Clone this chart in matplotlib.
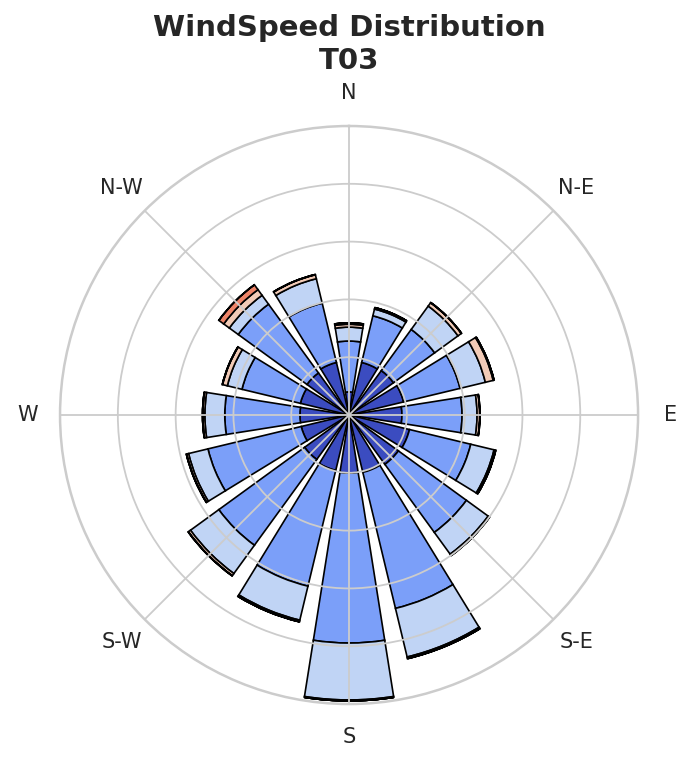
import numpy as np
import matplotlib
matplotlib.use("Agg")
import matplotlib.pyplot as plt

# wind directions (16 sectors, clockwise from north)
directions = ["N", "NNE", "NE", "ENE", "E", "ESE", "SE", "SSE",
              "S", "SSW", "SW", "WSW", "W", "WNW", "NW", "NNW"]

# frequency (%) per speed bin, one list per bin
speed_bin_0 = [0.80, 1.87, 1.90, 1.94, 1.83, 2.15, 2.11, 2.04,
               2.01, 1.97, 1.90, 1.70, 1.70, 1.73, 1.80, 1.87]
speed_bin_1 = [1.76, 1.66, 1.76, 2.01, 2.08, 2.18, 2.91, 4.84,
               5.88, 4.12, 3.67, 3.32, 2.60, 2.08, 2.94, 2.11]
speed_bin_2 = [0.48, 0.24, 1.00, 0.90, 0.52, 0.83, 0.93, 1.73,
               1.97, 1.21, 1.21, 0.69, 0.69, 0.52, 0.38, 0.87]
speed_bin_3 = [0.10, 0.05, 0.14, 0.28, 0.09, 0.05, 0.05, 0.05,
               0.03, 0.05, 0.09, 0.07, 0.07, 0.17, 0.24, 0.14]
speed_bin_4 = [0.05, 0.00, 0.01, 0.03, 0.01, 0.01, 0.01, 0.01,
               0.00, 0.01, 0.01, 0.01, 0.01, 0.01, 0.21, 0.01]
speed_bin_5 = [0.00, 0.00, 0.00, 0.00, 0.00, 0.00, 0.00, 0.00,
               0.00, 0.00, 0.00, 0.00, 0.00, 0.00, 0.00, 0.00]
bins = [speed_bin_0, speed_bin_1, speed_bin_2, speed_bin_3, speed_bin_4, speed_bin_5]

compass_labels = ["N", "N-E", "E", "S-E", "S", "S-W", "W", "N-W"]

cmap = plt.get_cmap("coolwarm")
colors = [cmap(v) for v in np.linspace(0, 1, len(bins))]

fig = plt.figure(figsize=(6.94, 7.66), dpi=100)
ax = fig.add_axes([0.0865, 0.0809, 0.8329, 0.7546], projection="polar")
ax.set_theta_zero_location("N")
ax.set_theta_direction(-1)

theta = np.deg2rad(np.arange(len(directions)) * 360 / len(directions))
width = np.deg2rad(360 / len(directions)) * 0.8
bottom = np.zeros(len(directions))
for vals, col in zip(bins, colors):
    vals = np.array(vals)
    ax.bar(theta, vals, width=width, bottom=bottom, color=col,
           edgecolor="black", linewidth=1.2, zorder=1)
    bottom += vals

ax.set_ylim(0, 10)
ax.set_yticks([2, 4, 6, 8])
ax.set_yticklabels([])
ax.set_thetagrids(np.arange(0, 360, 45), compass_labels)
ax.tick_params(axis="x", labelsize=15, colors="#262626", pad=13)
ax.set_axisbelow(False)
ax.grid(True, color="#cccccc", linewidth=1.3)
ax.spines["polar"].set_color("#cccccc")
ax.spines["polar"].set_linewidth(1.8)

fig.text(0.503, 1 - 14 / 766, "WindSpeed Distribution\nT03", ha="center", va="top",
         fontsize=21, fontweight="bold", color="#262626", linespacing=1.22)

fig.savefig("out.png", dpi=100, facecolor="white")
